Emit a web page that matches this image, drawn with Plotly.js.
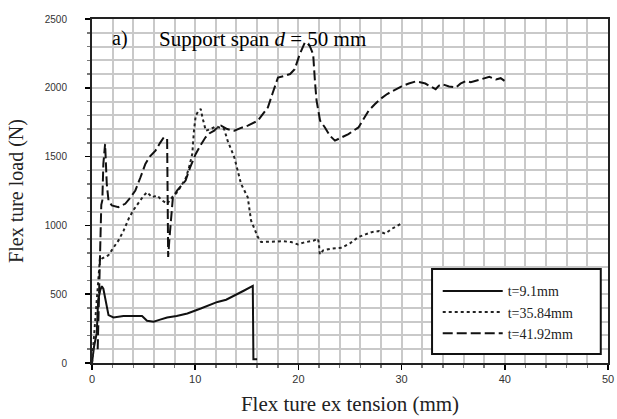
<!DOCTYPE html>
<html><head><meta charset="utf-8">
<script src="https://cdn.plot.ly/plotly-3.0.1.min.js"></script>
<style>html,body{margin:0;padding:0;background:#fff}#c{width:617px;height:419px}</style>
</head><body><div id="c"></div>
<script>
// t=9.1mm (solid)
const x91 = [0, 0.2, 0.46, 0.6, 0.8, 0.95, 1.1, 1.27, 1.6, 2.08, 3.05, 4.0, 4.85, 5.33, 5.98, 6.6, 7.28, 8.2, 9.24, 10.54, 11.3, 12.16, 13.0, 13.8, 14.7, 15.58, 15.64, 16.0];
const y91 = [0, 120, 217, 458, 530, 558, 540, 480, 348, 331, 341, 341, 341, 307, 300, 315, 331, 342, 360, 396, 420, 444, 460, 493, 525, 560, 27, 27];
// t=35.84mm (dotted)
const x3584 = [0, 0.3, 0.62, 0.78, 1.0, 1.59, 2.0, 2.57, 3.05, 3.55, 4.0, 4.52, 5.0, 5.33, 5.82, 6.31, 6.8, 7.28, 7.77, 8.26, 8.7, 9.07, 9.4, 9.72, 9.88, 10.05, 10.3, 10.54, 10.7, 11.03, 11.5, 12.0, 12.4, 12.8, 13.14, 13.79, 14.44, 15.09, 15.41, 16.07, 16.39, 17.5, 18.5, 19.3, 19.95, 20.5, 21.0, 21.5, 21.9, 22.0, 22.07, 22.4, 23.2, 24.2, 25.0, 25.8, 26.5, 27.1, 27.8, 28.4, 29.07, 30.05];
const y3584 = [0, 300, 674, 770, 760, 783, 830, 891, 960, 1048, 1110, 1169, 1215, 1241, 1205, 1217, 1181, 1157, 1205, 1241, 1290, 1340, 1420, 1520, 1688, 1797, 1830, 1846, 1785, 1688, 1700, 1720, 1710, 1701, 1616, 1495, 1302, 1205, 1036, 915, 879, 880, 885, 879, 862, 875, 882, 890, 903, 860, 790, 819, 831, 838, 870, 915, 935, 951, 959, 940, 976, 1017];
// t=41.92mm (dashed)
const x4192 = [0.55, 0.65, 0.75, 0.82, 0.9, 1.0, 1.1, 1.27, 1.35, 1.43, 1.6, 1.92, 2.57, 3.22, 3.7, 4.2, 4.7, 5.17, 5.6, 6.15, 6.6, 6.96, 7.28, 7.35, 7.38, 7.5, 7.6, 7.84, 8.26, 8.7, 9.07, 9.5, 10.05, 10.5, 11.0, 11.4, 11.84, 12.0, 12.5, 13.1, 13.8, 14.5, 15.1, 16.07, 16.5, 17.04, 17.5, 18.02, 18.66, 19.2, 19.64, 20.13, 20.62, 20.78, 21.1, 21.43, 21.6, 21.76, 22.1, 22.57, 23.05, 23.54, 24.2, 24.85, 25.82, 26.3, 26.8, 27.4, 27.93, 28.6, 29.4, 30.0, 30.7, 31.35, 31.8, 32.3, 32.8, 33.3, 33.6, 33.95, 34.6, 35.25, 35.7, 36.23, 36.7, 37.2, 37.8, 38.5, 39.15, 39.6, 40.1];
const y4192 = [100, 400, 700, 1000, 1150, 1181, 1447, 1592, 1450, 1302, 1180, 1145, 1133, 1157, 1200, 1254, 1350, 1447, 1500, 1543, 1600, 1640, 1628, 1200, 770, 900, 1012, 1205, 1254, 1290, 1326, 1420, 1519, 1580, 1640, 1670, 1688, 1701, 1725, 1700, 1688, 1710, 1725, 1761, 1800, 1857, 1960, 2075, 2087, 2100, 2135, 2244, 2328, 2330, 2304, 2244, 2050, 1906, 1761, 1712, 1652, 1616, 1640, 1664, 1712, 1770, 1833, 1880, 1918, 1955, 1990, 2010, 2031, 2046, 2040, 2031, 2010, 1990, 2015, 2026, 2010, 2002, 2030, 2050, 2040, 2050, 2065, 2080, 2060, 2070, 2043];
const names = ["t=9.1mm", "t=35.84mm", "t=41.92mm"];

const traces = [
  {x: x91, y: y91, name: names[0], mode: "lines", line: {color: "#111", width: 2, dash: "solid"}},
  {x: x3584, y: y3584, name: names[1], mode: "lines", line: {color: "#222", width: 2, dash: "dot"}},
  {x: x4192, y: y4192, name: names[2], mode: "lines", line: {color: "#111", width: 2, dash: "10px,4px"}}
];

const serif = "Liberation Serif, Times New Roman, serif";
const grid = "#c9c9c9";
const layout = {
  width: 617, height: 419,
  margin: {l: 92, r: 9, t: 19, b: 56},
  paper_bgcolor: "#fff", plot_bgcolor: "#fff",
  showlegend: true,
  legend: {x: 0.67, y: 0.255, xanchor: "left", yanchor: "top", bgcolor: "rgba(0,0,0,0)", borderwidth: 0,
           itemwidth: 60, font: {family: serif, size: 14, color: "#222"}, tracegroupgap: 0},
  xaxis: {
    range: [0, 50], dtick: 10, tick0: 0, showgrid: true, gridcolor: grid, gridwidth: 2,
    minor: {dtick: 2, showgrid: true, gridcolor: grid, gridwidth: 2, ticks: "outside", ticklen: 3, tickcolor: "#777"},
    ticks: "outside", ticklen: 5, tickwidth: 1.5, tickcolor: "#000",
    showline: true, linecolor: "#222", linewidth: 2, mirror: true, zeroline: false,
    tickfont: {family: "Liberation Sans, Arial, sans-serif", size: 11, color: "#333"},
    title: {text: "Flex ture ex tension (mm)", standoff: 12,
            font: {family: serif, size: 21, color: "#222"}}
  },
  yaxis: {
    range: [0, 2500], dtick: 500, tick0: 0, showgrid: true, gridcolor: grid, gridwidth: 2,
    minor: {dtick: 100, showgrid: true, gridcolor: grid, gridwidth: 2, ticks: "outside", ticklen: 3, tickcolor: "#777"},
    ticks: "outside", ticklen: 5, tickwidth: 1.5, tickcolor: "#000",
    ticklabelstandoff: 16,
    showline: true, linecolor: "#222", linewidth: 2, mirror: true, zeroline: false,
    tickfont: {family: "Liberation Sans, Arial, sans-serif", size: 10, color: "#333"},
    title: {text: "Flex ture load (N)", standoff: 16,
            font: {family: serif, size: 20, color: "#222"}}
  },
  shapes: [
    {type: "rect", xref: "paper", yref: "paper", x0: 0.659, x1: 0.986, y0: 0.026, y1: 0.273,
     line: {color: "#111", width: 2, dash: "solid"}, fillcolor: "#fff", layer: "above"}
  ],
  annotations: [
    {xref: "x", yref: "y", x: 1.7, y: 2355, xanchor: "left", yanchor: "middle", showarrow: false,
     text: "a)", font: {family: serif, size: 20, color: "#000"}},
    {xref: "x", yref: "y", x: 6.3, y: 2355, xanchor: "left", yanchor: "middle", showarrow: false,
     text: "Support span <i>d</i> = 50 mm", font: {family: serif, size: 21, color: "#000"}}
  ]
};
Plotly.newPlot("c", traces, layout, {displayModeBar: false, staticPlot: true});
</script></body></html>
